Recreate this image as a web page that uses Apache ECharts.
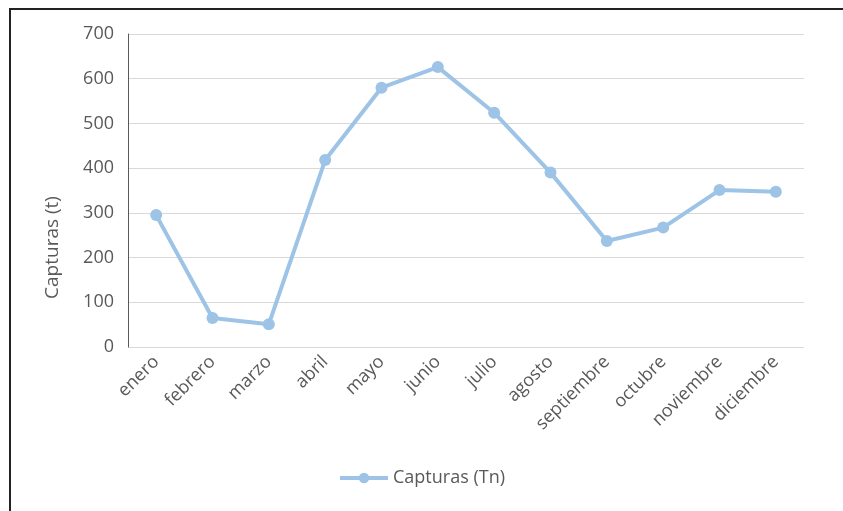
<!DOCTYPE html>
<html>
<head>
<meta charset="utf-8">
<script src="https://cdn.jsdelivr.net/npm/echarts@6/dist/echarts.min.js"></script>
<style>
  html, body { margin: 0; padding: 0; background: #fff; }
  #frame { position: absolute; left: 9px; top: 8px; width: 834px; height: 503px;
           border-top: 2px solid #222; border-left: 2px solid #222; }
  #chart { position: absolute; left: 0; top: 0; width: 843px; height: 511px; }
</style>
</head>
<body>
<div id="frame"></div>
<div id="chart"></div>
<script>
const months = ['enero', 'febrero', 'marzo', 'abril', 'mayo', 'junio', 'julio',
  'agosto', 'septiembre', 'octubre', 'noviembre', 'diciembre'];
const capturas = [295, 65, 51, 418, 580, 626, 524, 390, 237, 267, 351, 347];
const seriesName = 'Capturas (Tn)';
const yName = 'Capturas (t)';

const font = '"Open Sans", sans-serif';
const chart = echarts.init(document.getElementById('chart'));
chart.setOption({
  animation: false,
  textStyle: { fontFamily: font },
  grid: { left: 128, right: 39, top: 34, bottom: 164 },
  legend: {
    bottom: 19,
    left: 'center',
    itemWidth: 48,
    itemHeight: 13,
    itemGap: 4,
    lineStyle: { width: 4 },
    textStyle: { fontFamily: font, fontSize: 18, color: '#595959' },
    data: [seriesName]
  },
  xAxis: {
    type: 'category',
    data: months,
    axisLine: { show: false },
    axisTick: { show: false },
    axisLabel: { rotate: 45, fontSize: 18, color: '#595959', margin: 12, fontFamily: font }
  },
  yAxis: {
    type: 'value',
    min: 0,
    max: 700,
    interval: 100,
    name: yName,
    nameLocation: 'middle',
    nameRotate: 90,
    nameGap: 66,
    nameTextStyle: { fontSize: 19, color: '#595959', fontFamily: font, padding: [0, 114, 0, 0] },
    axisLine: { show: true, lineStyle: { color: '#595959', width: 1 } },
    axisTick: { show: false },
    axisLabel: { fontSize: 18, color: '#595959', margin: 14, fontFamily: font },
    splitLine: { lineStyle: { color: '#d9d9d9', width: 1 } }
  },
  series: [{
    name: seriesName,
    type: 'line',
    data: capturas,
    symbol: 'circle',
    symbolSize: 12,
    lineStyle: { color: '#9dc3e6', width: 4 },
    itemStyle: { color: '#9dc3e6' }
  }]
});
</script>
</body>
</html>
